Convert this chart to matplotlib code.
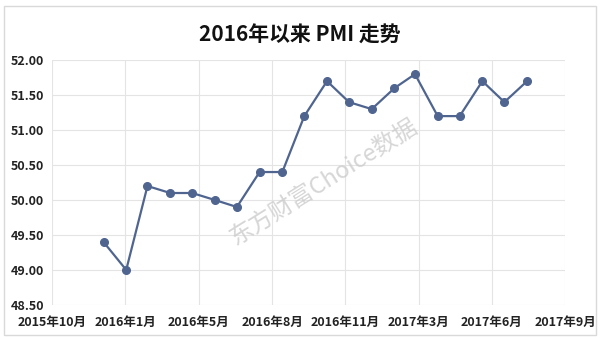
import matplotlib
matplotlib.use("Agg")
import matplotlib.pyplot as plt
import matplotlib.dates as mdates
from matplotlib.patches import Rectangle
import datetime as dt

plt.rcParams['font.family'] = ['Noto Sans CJK SC', 'DejaVu Sans']

# 数据: 2016年1月 - 2017年8月 官方制造业PMI
months = ["2016-01", "2016-02", "2016-03", "2016-04", "2016-05", "2016-06", "2016-07",
          "2016-08", "2016-09", "2016-10", "2016-11", "2016-12", "2017-01", "2017-02",
          "2017-03", "2017-04", "2017-05", "2017-06", "2017-07", "2017-08"]
pmi = [49.4, 49.0, 50.2, 50.1, 50.1, 50.0, 49.9, 50.4, 50.4, 51.2,
       51.7, 51.4, 51.3, 51.6, 51.8, 51.2, 51.2, 51.7, 51.4, 51.7]
title = "2016年以来 PMI 走势"

dates = [dt.datetime.strptime(m, "%Y-%m") for m in months]

# Excel式日期轴: 起点 + 每100天一个刻度
axis_start = dt.datetime(2015, 10, 23)
ticks = [axis_start + dt.timedelta(days=100 * i) for i in range(8)]

fig = plt.figure(figsize=(6, 3.38), dpi=100)
ax = fig.add_axes([0.087, 0.098, 0.855, 0.724])

ax.plot(dates, pmi, color='#4f6590', lw=1.6, marker='o', ms=5.5,
        markerfacecolor='#4f6590', markeredgecolor='#4f6590', zorder=3)

ax.set_ylim(48.5, 52.0)
ax.set_yticks([48.5 + 0.5 * i for i in range(8)])
ax.yaxis.set_major_formatter(plt.FuncFormatter(lambda v, p: f"{v:.2f}"))
ax.set_xlim(ticks[0], ticks[-1])
ax.set_xticks(ticks)
ax.xaxis.set_major_formatter(plt.FuncFormatter(
    lambda v, p: "{}年{}月".format(mdates.num2date(v).year, mdates.num2date(v).month)))

ax.grid(True, color='#e4e4e4', lw=0.8)
ax.set_axisbelow(True)
for s in ax.spines.values():
    s.set_visible(False)
ax.tick_params(axis='y', length=0, labelsize=9, colors='#222222', pad=6)
ax.tick_params(axis='x', length=0, labelsize=9, colors='#222222', pad=8)
for lab in ax.get_xticklabels() + ax.get_yticklabels():
    lab.set_fontweight('bold')

fig.text(0.5, 0.895, title, ha='center', va='center', fontsize=15,
         fontweight='bold', color='#111111')

# 水印
fig.text(0.54, 0.46, "东方财富Choice数据", ha='center', va='center', fontsize=17,
         rotation=32, color='#cccccc', alpha=0.8)

fig.patches.append(Rectangle((0.007, 0.008), 0.986, 0.974, transform=fig.transFigure,
                             fill=False, edgecolor='#d9d9d9', lw=1))

fig.savefig("out.png", dpi=100)
